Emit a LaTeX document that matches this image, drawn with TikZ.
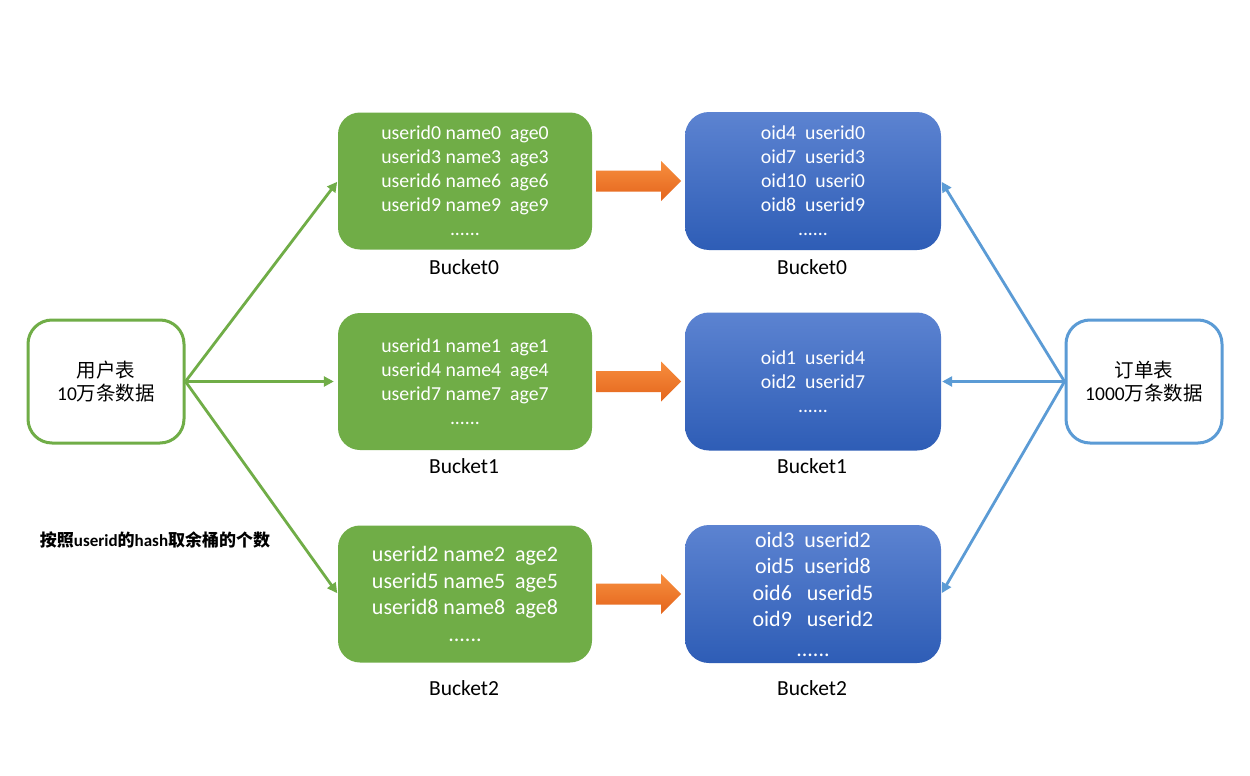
\documentclass[tikz,border=0pt]{standalone}
\usepackage{fontspec}
\setmainfont{Carlito}
\newfontfamily\cjk{Noto Sans CJK SC}
\usetikzlibrary{arrows.meta}
\definecolor{gfill}{HTML}{70AD47}
\definecolor{bline}{HTML}{5B9BD5}
\definecolor{btop}{RGB}{92,131,209}
\definecolor{bbot}{RGB}{46,93,182}
\definecolor{otop}{RGB}{247,142,62}
\definecolor{obot}{RGB}{228,101,28}
\newcommand\orangearrow[1]{%
  \shade[top color=otop,bottom color=obot] ([shift={(4,-10.5)}]#1.east) -- ++(65,0) -- ++(0,-9.5) -- ++(20,20) -- ++(-20,20) -- ++(0,-9.5) -- ++(-65,0) -- cycle;}
\begin{document}
\begin{tikzpicture}[x=1pt,y=-1pt,
  gbox/.style={rectangle, rounded corners=22pt, fill=gfill, text=white, minimum width=254pt, minimum height=137pt, align=center, inner sep=0pt, font=\fontsize{19.8}{24}\selectfont},
  bbox/.style={rectangle, rounded corners=24pt, top color=btop, bottom color=bbot, text=white, minimum width=256pt, minimum height=138pt, align=center, inner sep=0pt, font=\fontsize{19.8}{24}\selectfont},
  bigtext/.style={font=\fontsize{22}{26.5}\selectfont},
  tbl/.style={rectangle, rounded corners=24pt, line width=3pt, fill=white, minimum width=156pt, minimum height=123pt, align=center, font=\fontsize{19.5}{23}\selectfont},
  lbl/.style={font=\fontsize{21.5}{25}\selectfont},
  garr/.style={draw=gfill, line width=2.8pt, -{Triangle[length=10pt,width=10pt]}},
  barr/.style={draw=bline, line width=2.8pt, -{Triangle[length=10pt,width=10pt]}}
]
\fill[white] (0,0) rectangle (1250,776);
\useasboundingbox (0,0) rectangle (1250,776);

% tables
\node[tbl, draw=gfill] (u) at (106,381.5) {{\cjk 用户表}\\10{\cjk 万条数据}};
\node[tbl, draw=bline] (o) at (1144,381.5) {{\cjk 订单表}\\1000{\cjk 万条数据}};

% green buckets
\node[gbox] (g0) at (465,181) {userid0 name0\ \ age0\\userid3 name3\ \ age3\\userid6 name6\ \ age6\\userid9 name9\ \ age9\\......};
\node[gbox] (g1) at (465,381.5) {userid1 name1\ \ age1\\userid4 name4\ \ age4\\userid7 name7\ \ age7\\......};
\node[gbox, bigtext] (g2) at (465,594) {userid2 name2\ \ age2\\userid5 name5\ \ age5\\userid8 name8\ \ age8\\......};

% blue buckets
\node[bbox] (b0) at (813,181) {oid4\ \ userid0\\oid7\ \ userid3\\oid10\ \ useri0\\oid8\ \ userid9\\......};
\node[bbox] (b1) at (813,381.5) {oid1\ \ userid4\\oid2\ \ userid7\\......};
\node[bbox, bigtext] (b2) at (813,594) {oid3\ \ userid2\\oid5\ \ userid8\\oid6\ \ \ userid5\\oid9\ \ \ userid2\\[3pt]......};

% labels
\node[lbl] (l0) at (464,267) {Bucket0};
\node[lbl] (l1) at (464,466) {Bucket1};
\node[lbl] (l2) at (464,688) {Bucket2};
\node[lbl] (m0) at (812,267) {Bucket0};
\node[lbl] (m1) at (812,466) {Bucket1};
\node[lbl] (m2) at (812,688) {Bucket2};
\node[font=\fontsize{17}{20}\selectfont\bfseries] (note) at (155,540) {{\cjk 按照}userid{\cjk 的}hash{\cjk 取余桶的个数}};

% orange arrows
\orangearrow{g0}
\orangearrow{g1}
\orangearrow{g2}

% connectors
\draw[garr, shorten >=1pt] (u.east) -- (g0.west);
\draw[garr, shorten >=4pt] (u.east) -- (g1.west);
\draw[garr, shorten >=1pt] (u.east) -- (g2.west);
\draw[barr, shorten >=1pt] (o.west) -- (b0.east);
\draw[barr, shorten >=1pt] (o.west) -- (b1.east);
\draw[barr, shorten >=1pt] (o.west) -- (b2.east);
\end{tikzpicture}
\end{document}
